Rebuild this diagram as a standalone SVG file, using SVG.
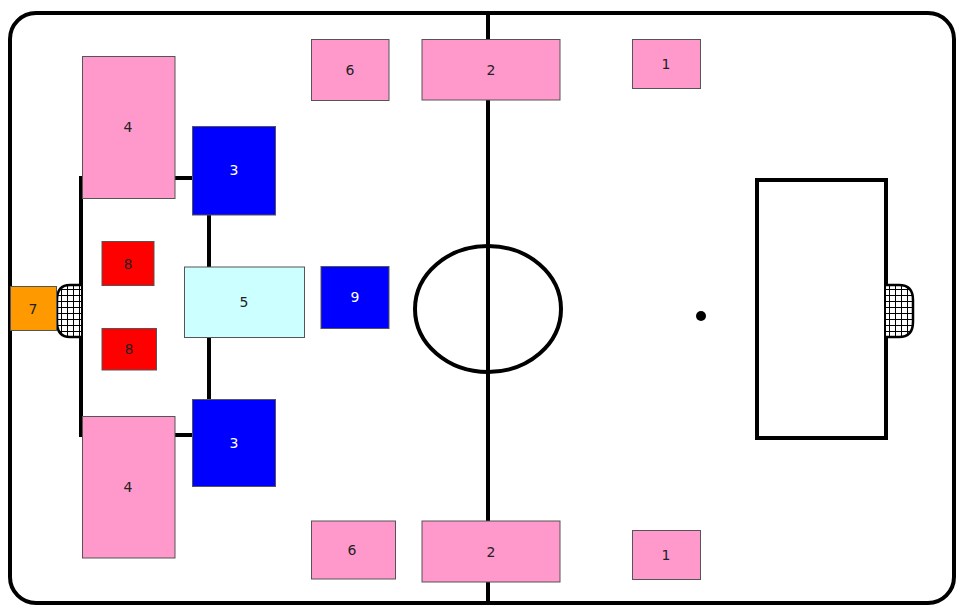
<svg xmlns="http://www.w3.org/2000/svg" width="956" height="605" viewBox="0 0 956 605">
<style>
.n rect{stroke:#555;stroke-width:1}
.pink{fill:#FF99CC}
.blue{fill:#0000FF}
.red{fill:#FF0000}
.lbl{font-family:"DejaVu Sans","Verdana",sans-serif;font-size:14px;fill:#222;text-anchor:middle;dominant-baseline:central}
.w{fill:#fff}
.line{stroke:#000;stroke-width:4;fill:none}
.net{stroke:#000;stroke-width:2.5;fill:url(#grid)}
</style>
<defs>
<pattern id="grid" x="1" y="1" width="6" height="6" patternUnits="userSpaceOnUse">
<rect width="6" height="6" fill="#fff"/>
<path d="M0,0.5H6M0.5,0V6" stroke="#000" stroke-width="1" fill="none"/>
</pattern>
</defs>
<rect x="0" y="0" width="956" height="605" fill="#fff"/>
<g id="field">
<rect class="line" x="10" y="13" width="944" height="590" rx="26"/>
<line class="line" x1="488" y1="13" x2="488" y2="605"/>
<ellipse class="line" cx="488" cy="309" rx="73" ry="63"/>
<rect class="line" x="757" y="180" width="129" height="258"/>
<circle cx="701" cy="316" r="5" fill="#000"/>
<line class="line" x1="81" y1="176" x2="81" y2="437"/>
<path class="net" d="M81,285 H70 Q57,285 57,300 V322 Q57,337 70,337 H81"/>
<path class="net" d="M886,285 H899 Q913,285 913,300 V322 Q913,337 899,337 H886"/>
</g>
<g id="connectors">
<line class="line" x1="175" y1="178" x2="193" y2="178"/>
<line class="line" x1="175" y1="435" x2="193" y2="435"/>
<line class="line" x1="209" y1="215" x2="209" y2="267"/>
<line class="line" x1="209" y1="338" x2="209" y2="400"/>
</g>
<g id="n7" class="n"><rect x="10.5" y="286.5" width="46" height="44" fill="#FF9900"/><text class="lbl" x="33" y="309">7</text></g>
<g id="n8a" class="n"><rect class="red" x="102" y="241.5" width="52" height="44"/><text class="lbl" x="128" y="264">8</text></g>
<g id="n8b" class="n"><rect class="red" x="102" y="328.5" width="54.5" height="41.5"/><text class="lbl" x="129" y="349">8</text></g>
<g id="n5" class="n"><rect x="184.5" y="267" width="120" height="70.5" fill="#CCFFFF"/><text class="lbl" x="244" y="302">5</text></g>
<g id="n4a" class="n"><rect class="pink" x="82.5" y="56.5" width="92.5" height="142"/><text class="lbl" x="128" y="127">4</text></g>
<g id="n4b" class="n"><rect class="pink" x="82.5" y="416.5" width="92.5" height="141.5"/><text class="lbl" x="128" y="487">4</text></g>
<g id="n3a" class="n"><rect class="blue" x="192.5" y="126.5" width="83" height="88.5"/><text class="lbl w" x="234" y="170">3</text></g>
<g id="n3b" class="n"><rect class="blue" x="192.5" y="399.5" width="83" height="87"/><text class="lbl w" x="234" y="443">3</text></g>
<g id="n9" class="n"><rect class="blue" x="321" y="266.5" width="68" height="62"/><text class="lbl w" x="355" y="297">9</text></g>
<g id="n6a" class="n"><rect class="pink" x="311.5" y="39.5" width="77.5" height="61"/><text class="lbl" x="350" y="70">6</text></g>
<g id="n2a" class="n"><rect class="pink" x="422" y="39.5" width="138" height="60.5"/><text class="lbl" x="491" y="70">2</text></g>
<g id="n1a" class="n"><rect class="pink" x="632.5" y="39.5" width="68" height="49"/><text class="lbl" x="666" y="64">1</text></g>
<g id="n6b" class="n"><rect class="pink" x="311.5" y="521" width="84" height="58"/><text class="lbl" x="352" y="550">6</text></g>
<g id="n2b" class="n"><rect class="pink" x="422" y="521" width="138" height="61"/><text class="lbl" x="491" y="552">2</text></g>
<g id="n1b" class="n"><rect class="pink" x="632.5" y="530.5" width="68" height="49"/><text class="lbl" x="666" y="555">1</text></g>
</svg>
